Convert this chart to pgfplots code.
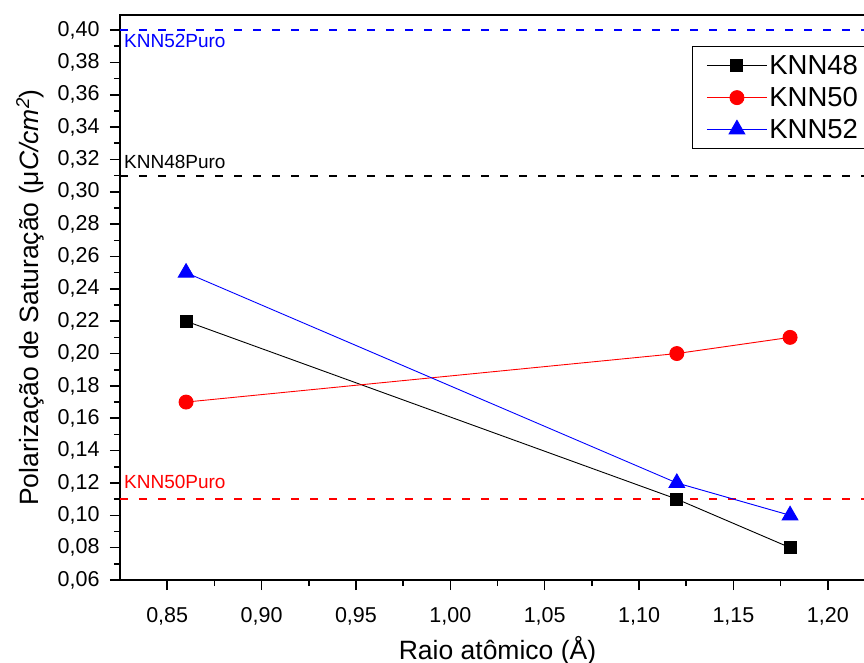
\documentclass[border=0pt]{standalone}
\usepackage{pgfplots}
\pgfplotsset{compat=1.18}
\usepackage{fontspec}
\setmainfont{Liberation Sans}
\begin{document}
\begin{tikzpicture}
\begin{axis}[
  name=ax,
  at={(0,0)}, anchor=south west,
  scale only axis,
  width=755pt, height=565pt,
  xmin=0.825, xmax=1.225,
  ymin=0.06, ymax=0.4093,
  xtick={0.85,0.90,...,1.201},
  ytick={0.06,0.08,...,0.401},
  minor x tick num=1, minor y tick num=1,
  xtick pos=bottom, ytick pos=left,
  tick align=outside,
  major tick length=10pt, minor tick length=6pt,
  every tick/.style={black, line width=1.6pt},
  axis line style={line width=2pt},
  /pgf/number format/assume math mode=true,
  /pgf/number format/use comma,
  /pgf/number format/fixed,
  /pgf/number format/fixed zerofill,
  /pgf/number format/precision=2,
  scaled ticks=false,
  tick label style={font=\fontsize{21.5}{25}\selectfont},
  yticklabel style={xshift=-7pt},
  xticklabel style={yshift=-14pt},
  xlabel={Raio atômico (Å)},
  ylabel={Polarização de Saturação (μ\textit{C/cm\textsuperscript{2}})},
  label style={font=\fontsize{26.5}{30}\selectfont},
  xlabel style={at={(axis description cs:0.5,0)}, anchor=base, yshift=-79pt},
  ylabel style={at={(axis description cs:0,0.5)}, anchor=center, yshift=90pt},
  legend style={at={(axis description cs:0.7576,0.945)}, anchor=north west,
    draw=black, line width=1pt, fill=white,
    font=\fontsize{27.5}{32}\selectfont,
    inner xsep=14pt, inner ysep=7pt,
    row sep=7pt},
  legend cell align=left,
  every even column/.style={column sep=12pt},
  legend image code/.code={\draw[#1, mark repeat=2, mark phase=2] plot coordinates {(0pt,0pt) (30pt,0pt) (60pt,0pt)};},
]
\addplot[forget plot, blue, dashed, line width=2pt, dash pattern=on 8pt off 11pt] coordinates {(0.825,0.40) (1.225,0.40)};
\addplot[forget plot, black, dashed, line width=2pt, dash pattern=on 8pt off 11pt] coordinates {(0.825,0.31) (1.225,0.31)};
\addplot[forget plot, red, dashed, line width=2pt, dash pattern=on 8pt off 11pt] coordinates {(0.825,0.11) (1.225,0.11)};

\addplot[black, line width=0.9pt, mark=square*, mark size=6pt, mark options={solid, fill=black}] coordinates {(0.86,0.22) (1.12,0.11) (1.18,0.08)};
\addlegendentry{KNN48}
\addplot[red, line width=0.9pt, mark=*, mark size=7pt, mark options={solid, fill=red}] coordinates {(0.86,0.17) (1.12,0.20) (1.18,0.21)};
\addlegendentry{KNN50}
\addplot[blue, line width=0.9pt, mark=triangle*, mark size=9pt, mark options={solid, fill=blue}] coordinates {(0.86,0.25) (1.12,0.12) (1.18,0.10)};
\addlegendentry{KNN52}

\node[anchor=base west, inner sep=0pt, blue, font=\fontsize{19}{22}\selectfont] at (axis cs:0.8271,0.389) {KNN52Puro};
\node[anchor=base west, inner sep=0pt, black, font=\fontsize{19}{22}\selectfont] at (axis cs:0.8271,0.3147) {KNN48Puro};
\node[anchor=base west, inner sep=0pt, red, font=\fontsize{19}{22}\selectfont] at (axis cs:0.8271,0.1163) {KNN50Puro};
\end{axis}
\pgfresetboundingbox
\path[use as bounding box] ([shift={(-120pt,-82pt)}]ax.south west) rectangle ([shift={(744pt,580pt)}]ax.south west);
\end{tikzpicture}
\end{document}
